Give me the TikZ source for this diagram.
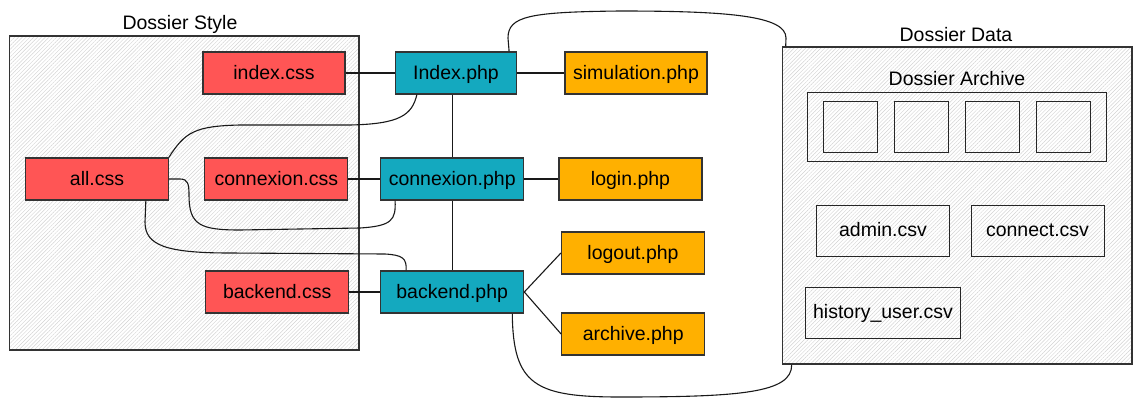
\documentclass[tikz,border=0pt]{standalone}
\usepackage{fontspec}
\setmainfont{Liberation Sans}
\usetikzlibrary{patterns.meta}
\definecolor{cssred}{HTML}{FF5555}
\definecolor{phpteal}{HTML}{14A9BF}
\definecolor{phporange}{HTML}{FFB000}
\definecolor{edgegray}{HTML}{333333}

\begin{document}
\begin{tikzpicture}[x=1pt,y=-1pt,line width=1.1pt,font=\fontsize{19.5}{23}\selectfont,
  file/.style={draw=edgegray,line width=1.2pt,minimum height=42pt,inner sep=0pt,text height=14pt,text depth=2pt},
  cssfile/.style={file,fill=cssred,minimum width=143pt},
  phpfile/.style={file,fill=phpteal,minimum width=143pt},
  pagefile/.style={file,fill=phporange,minimum width=143pt},
  panel/.style={draw=edgegray,line width=1.5pt,inner sep=0pt,pattern={Lines[angle=45,distance=2.7pt,line width=.45pt]},pattern color=gray!35},
  csvfile/.style={draw=black!85,line width=1pt,minimum height=51pt,inner sep=0pt,text height=14pt,text depth=2pt},
  link/.style={draw=black!90,line width=1.1pt}]
\useasboundingbox (0,0) rectangle (1141,407);
\node[panel,minimum width=349.4pt,minimum height=314pt] (stylepanel) at (184.3,193) {};
\node[panel,minimum width=349.5pt,minimum height=317pt] (datapanel) at (957.2,205.5) {};
\node[anchor=base] (styletitle) at (180,29) {Dossier Style};
\node[anchor=base] (datatitle) at (956,41) {Dossier Data};
\node[anchor=base] (archivetitle) at (957,85) {Dossier Archive};
\node[csvfile,minimum width=299.6pt,minimum height=69pt] (archivebox) at (956.8,126.5) {};
\foreach \i in {0,...,3}
  \node[csvfile,minimum width=54pt] (sq\i) at (850+71*\i,126.5) {};
\node[csvfile,minimum width=133pt] (admincsv) at (883,230.5) {admin.csv};
\node[csvfile,minimum width=133pt] (connectcsv) at (1037.5,230.5) {connect.csv};
\node[csvfile,minimum width=155pt] (historycsv) at (883,312.5) {history\_user.csv};
\node[cssfile,minimum width=142pt] (indexcss) at (274,73) {index.css};
\node[phpfile,minimum width=121pt] (indexphp) at (456,73) {Index.php};
\node[pagefile,minimum width=142pt] (simphp) at (636,73) {simulation.php};
\node[cssfile,minimum width=142.5pt] (allcss) at (97,179) {all.css};
\node[cssfile] (conncss) at (276.3,179) {connexion.css};
\node[phpfile] (connphp) at (452.2,179) {connexion.php};
\node[pagefile] (loginphp) at (630.5,179) {login.php};
\node[pagefile] (logoutphp) at (633,253) {logout.php};
\node[cssfile] (backcss) at (277.2,292) {backend.css};
\node[phpfile] (backphp) at (452.2,292) {backend.php};
\node[pagefile] (archphp) at (633.2,334) {archive.php};
\draw[link] (indexcss) -- (indexphp);
\draw[link] (indexphp) -- (simphp);
\draw[link] (indexphp.south -| connphp.north) -- (connphp.north);
\draw[link] (conncss) -- (connphp);
\draw[link] (connphp) -- (loginphp);
\draw[link] (connphp) -- (backphp);
\draw[link] (backcss) -- (backphp);
\draw[link] (backphp.east) -- (logoutphp.west);
\draw[link] (backphp.east) -- (archphp.west);
\draw[link] (allcss.north east) .. controls (185,132) and (195,126) .. (240,125) -- (350,125) .. controls (400,124) and (412,115) .. ([xshift=22pt]indexphp.south west);
\draw[link] (allcss.east) -- (180,179) .. controls (188,179) and (189,184) .. (189,195) .. controls (189,225) and (200,230) .. (240,230) -- (360,228) .. controls (392,226) and (396,220) .. ([xshift=15pt]connphp.south west);
\draw[link] ([xshift=-23pt]allcss.south east) -- (145,222) .. controls (145,245) and (165,253) .. (230,253) -- (385,254) .. controls (402,255) and (407,258) .. ([xshift=26pt]backphp.north west);
\draw[link] ([xshift=-8pt]indexphp.north east) -- (508,38) .. controls (508,16) and (530,12) .. (620,11) .. controls (730,11) and (786,16) .. (786,38) -- ([xshift=4pt]datapanel.north west);
\draw[link] ([xshift=-12pt]backphp.south east) .. controls (513,385) and (535,397) .. (620,397) .. controls (740,397) and (792,393) .. ([xshift=10pt]datapanel.south west);
\end{tikzpicture}
\end{document}
